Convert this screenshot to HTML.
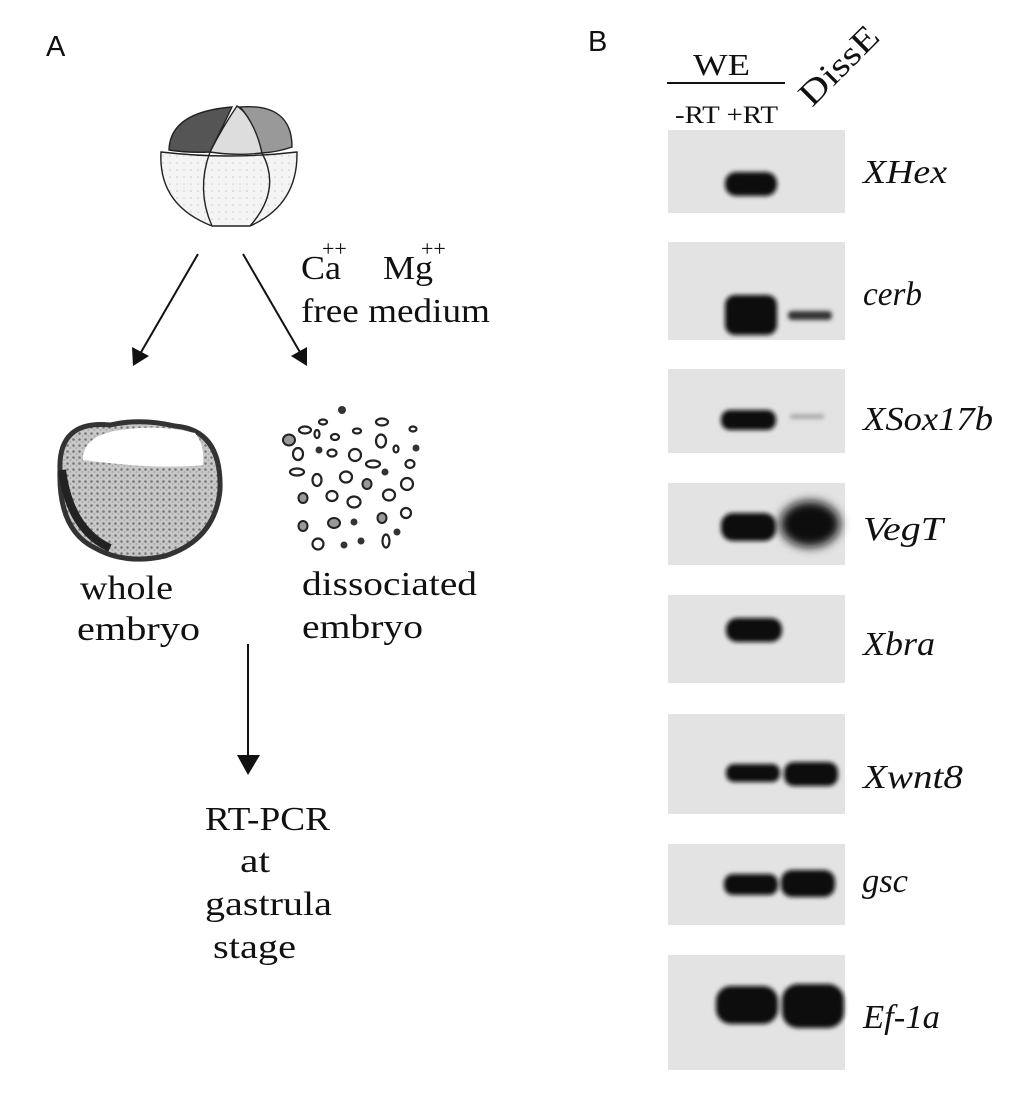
<!DOCTYPE html>
<html><head><meta charset="utf-8"><style>
html,body{margin:0;padding:0;background:#fff;}
svg{display:block}
.s{font-family:"Liberation Serif",serif;fill:#111}
.i{font-family:"Liberation Serif",serif;font-style:italic;fill:#111;font-size:34px}
</style></head><body>
<svg width="1014" height="1097" viewBox="0 0 1014 1097" xmlns="http://www.w3.org/2000/svg">
<defs>
<filter id="b" x="-30%" y="-60%" width="160%" height="220%"><feGaussianBlur stdDeviation="2.2"/></filter>
<filter id="b2" x="-30%" y="-60%" width="160%" height="220%"><feGaussianBlur stdDeviation="5"/></filter>
<pattern id="sp" width="6" height="6" patternUnits="userSpaceOnUse"><rect width="6" height="6" fill="#c8c8c8"/><circle cx="1.5" cy="1.5" r="1.3" fill="#777"/><circle cx="4.5" cy="4" r="1" fill="#aaa"/></pattern>
<pattern id="spl" width="7" height="7" patternUnits="userSpaceOnUse"><rect width="7" height="7" fill="#f4f4f4"/><circle cx="2" cy="2" r="0.8" fill="#ccc"/></pattern>
</defs>
<rect width="1014" height="1097" fill="#fff"/>
<text x="46" y="56" font-family="Liberation Sans,sans-serif" font-size="29" fill="#111">A</text>
<text x="588" y="51" font-family="Liberation Sans,sans-serif" font-size="29" fill="#111">B</text>

<!-- top embryo -->
<g stroke="#222" stroke-width="1.4">
<path d="M161,152 Q158,205 212,226 L250,226 Q298,205 297,152 Q230,160 161,152Z" fill="url(#spl)"/>
<path d="M169,150 Q170,112 232,107 Q222,128 210,152 Q188,153 169,150Z" fill="#555"/>
<path d="M210,152 Q222,128 237,106 Q255,118 262,153 Q236,156 210,152Z" fill="#ddd"/>
<path d="M262,153 Q256,125 240,107 Q292,103 292,147 Q278,152 262,153Z" fill="#999"/>
<path d="M210,152 Q196,190 212,226" fill="none"/>
<path d="M262,153 Q282,190 250,226" fill="none"/>
</g>

<!-- arrows -->
<g stroke="#111" stroke-width="2" fill="none">
<line x1="198" y1="254" x2="140" y2="354"/>
<line x1="243" y1="254" x2="301" y2="354"/>
<line x1="248" y1="644" x2="248" y2="760"/>
</g>
<path d="M133,366 L132,347 L149,356Z" fill="#111"/>
<path d="M307,366 L291,356 L307,347Z" fill="#111"/>
<path d="M237,755 L260,755 L248,775Z" fill="#111"/>

<text class="s" x="301" y="279" font-size="34" textLength="40" lengthAdjust="spacingAndGlyphs">Ca</text>
<text class="s" x="322" y="256" font-size="22">++</text>
<text class="s" x="383" y="279" font-size="34" textLength="50" lengthAdjust="spacingAndGlyphs">Mg</text>
<text class="s" x="421" y="256" font-size="22">++</text>
<text class="s" x="301" y="322" font-size="34" textLength="189" lengthAdjust="spacingAndGlyphs">free medium</text>

<!-- whole embryo -->
<path d="M60,470 Q58,420 110,425 Q140,418 175,426 Q222,430 220,490 Q215,540 165,556 Q125,565 95,548 Q58,530 60,470Z" fill="url(#sp)" stroke="#333" stroke-width="5"/>
<path d="M83,456 Q86,435 120,430 Q160,424 195,433 Q205,445 203,465 Q160,470 83,460Z" fill="#fff"/>
<path d="M62,470 Q70,530 110,548" stroke="#222" stroke-width="8" fill="none"/>
<text class="s" x="80" y="599" font-size="34" textLength="93" lengthAdjust="spacingAndGlyphs">whole</text>
<text class="s" x="77" y="640" font-size="34" textLength="123" lengthAdjust="spacingAndGlyphs">embryo</text>

<!-- dissociated cells -->
<g stroke="#222" stroke-width="2.2" fill="none">
<ellipse cx="323" cy="422" rx="4" ry="2.5"/><ellipse cx="382" cy="422" rx="6" ry="3.5"/>
<ellipse cx="305" cy="430" rx="6" ry="3.5"/><ellipse cx="317" cy="434" rx="2.5" ry="4"/>
<ellipse cx="335" cy="437" rx="4" ry="3"/><ellipse cx="357" cy="431" rx="4" ry="2.5"/>
<ellipse cx="413" cy="429" rx="3.5" ry="2.5"/><ellipse cx="381" cy="441" rx="5" ry="6.5"/>
<ellipse cx="298" cy="454" rx="5" ry="6"/><ellipse cx="332" cy="453" rx="4.5" ry="3.5"/>
<ellipse cx="355" cy="455" rx="6" ry="6"/><ellipse cx="396" cy="449" rx="2.5" ry="3.5"/>
<ellipse cx="373" cy="464" rx="7" ry="3.5"/><ellipse cx="410" cy="464" rx="4.5" ry="4"/>
<ellipse cx="297" cy="472" rx="7" ry="3.5"/><ellipse cx="317" cy="480" rx="4.5" ry="6"/>
<ellipse cx="346" cy="477" rx="6" ry="5.5"/><ellipse cx="407" cy="484" rx="6" ry="6"/>
<ellipse cx="332" cy="496" rx="5.5" ry="5"/><ellipse cx="354" cy="502" rx="6.5" ry="5.5"/>
<ellipse cx="389" cy="495" rx="6" ry="5.5"/><ellipse cx="406" cy="513" rx="5" ry="5"/>
<ellipse cx="318" cy="544" rx="5.5" ry="5.5"/><ellipse cx="386" cy="541" rx="3.5" ry="6.5"/>
</g>
<g stroke="#222" stroke-width="2" fill="#999">
<ellipse cx="289" cy="440" rx="6" ry="5.5"/><ellipse cx="367" cy="484" rx="4.5" ry="5"/>
<ellipse cx="303" cy="498" rx="4.5" ry="5"/><ellipse cx="303" cy="526" rx="4.5" ry="5"/>
<ellipse cx="334" cy="523" rx="6" ry="5"/><ellipse cx="382" cy="518" rx="4.5" ry="5"/>
</g>
<g fill="#333">
<circle cx="342" cy="410" r="4"/><circle cx="319" cy="450" r="3.5"/><circle cx="416" cy="448" r="3.5"/>
<circle cx="385" cy="472" r="3.5"/><circle cx="354" cy="522" r="3.5"/><circle cx="397" cy="532" r="3.5"/>
<circle cx="344" cy="545" r="3.5"/><circle cx="361" cy="541" r="3.5"/>
</g>
<text class="s" x="302" y="595" font-size="34" textLength="175" lengthAdjust="spacingAndGlyphs">dissociated</text>
<text class="s" x="302" y="638" font-size="34" textLength="121" lengthAdjust="spacingAndGlyphs">embryo</text>

<text class="s" x="205" y="830" font-size="34" textLength="125" lengthAdjust="spacingAndGlyphs">RT-PCR</text>
<text class="s" x="240" y="872" font-size="34" textLength="30" lengthAdjust="spacingAndGlyphs">at</text>
<text class="s" x="205" y="915" font-size="34" textLength="127" lengthAdjust="spacingAndGlyphs">gastrula</text>
<text class="s" x="213" y="958" font-size="34" textLength="83" lengthAdjust="spacingAndGlyphs">stage</text>

<!-- gel headers -->
<text class="s" x="693" y="75" font-size="31" textLength="57" lengthAdjust="spacingAndGlyphs">WE</text>
<line x1="667" y1="83" x2="785" y2="83" stroke="#111" stroke-width="2"/>
<text class="s" x="675" y="123" font-size="25" textLength="103" lengthAdjust="spacingAndGlyphs">-RT +RT</text>
<text class="s" font-size="34" transform="translate(812,108) rotate(-45)" textLength="98" lengthAdjust="spacingAndGlyphs">DissE</text>

<!-- gel panels -->
<g fill="#e3e3e3">
<rect x="668" y="130" width="177" height="83"/>
<rect x="668" y="242" width="177" height="98"/>
<rect x="668" y="369" width="177" height="84"/>
<rect x="668" y="483" width="177" height="82"/>
<rect x="668" y="595" width="177" height="88"/>
<rect x="668" y="714" width="177" height="100"/>
<rect x="668" y="844" width="177" height="81"/>
<rect x="668" y="955" width="177" height="115"/>
</g>
<g fill="#111" filter="url(#b)">
<rect x="725" y="172" width="52" height="24" rx="11"/>
<rect x="725" y="295" width="52" height="40" rx="10"/>
<rect x="788" y="311" width="44" height="9" rx="4" fill="#333"/>
<rect x="721" y="410" width="55" height="20" rx="9"/>
<rect x="790" y="414" width="34" height="5" rx="2" fill="#aaa"/>
<rect x="721" y="513" width="55" height="28" rx="12"/>
<rect x="726" y="618" width="56" height="24" rx="11"/>
<rect x="726" y="764" width="54" height="18" rx="8"/>
<rect x="784" y="762" width="54" height="24" rx="10"/>
<rect x="724" y="874" width="54" height="21" rx="9"/>
<rect x="781" y="870" width="54" height="27" rx="11"/>
<rect x="716" y="986" width="62" height="38" rx="15"/>
<rect x="782" y="984" width="62" height="44" rx="16"/>
</g>
<ellipse cx="810" cy="524" rx="30" ry="23" fill="#111" filter="url(#b2)"/>

<text class="i" x="863" y="183" textLength="84" lengthAdjust="spacingAndGlyphs">XHex</text>
<text class="i" x="863" y="305" textLength="59" lengthAdjust="spacingAndGlyphs">cerb</text>
<text class="i" x="863" y="430" textLength="130" lengthAdjust="spacingAndGlyphs">XSox17b</text>
<text class="i" x="863" y="540" textLength="80" lengthAdjust="spacingAndGlyphs">VegT</text>
<text class="i" x="863" y="655" textLength="72" lengthAdjust="spacingAndGlyphs">Xbra</text>
<text class="i" x="863" y="788" textLength="100" lengthAdjust="spacingAndGlyphs">Xwnt8</text>
<text class="i" x="862" y="892" textLength="46" lengthAdjust="spacingAndGlyphs">gsc</text>
<text class="i" x="863" y="1028" textLength="77" lengthAdjust="spacingAndGlyphs">Ef-1a</text>
</svg>
</body></html>
